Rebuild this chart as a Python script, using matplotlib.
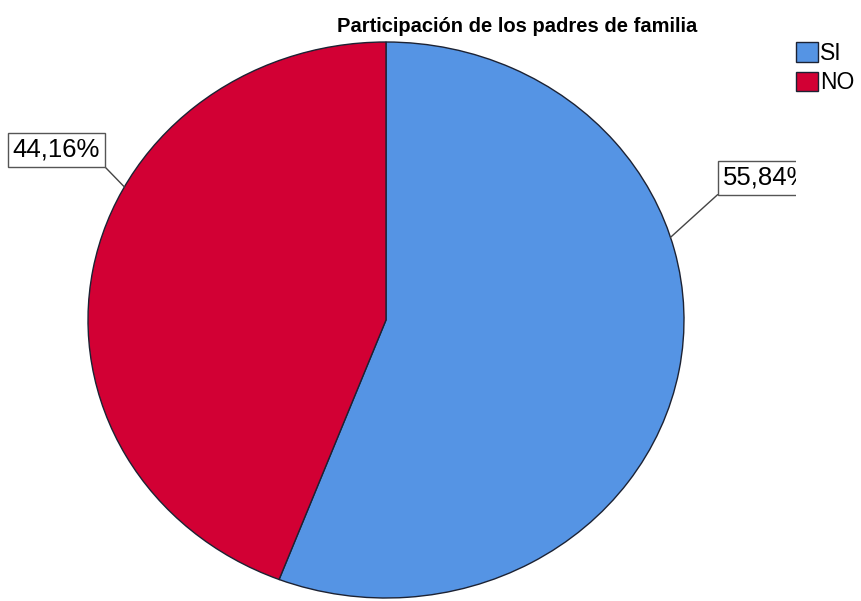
import numpy as np
import matplotlib.pyplot as plt
from matplotlib.patches import Patch
from matplotlib.transforms import Bbox, TransformedBbox

plt.rcParams['font.family'] = ['Liberation Sans', 'DejaVu Sans']

labels = ['SI', 'NO']
values = [55.84, 44.16]
colors = ['#5594E4', '#D20034']
title = 'Participación de los padres de familia'

W, H = 861, 601
fig = plt.figure(figsize=(W / 100, H / 100), dpi=100)
ax = fig.add_axes([88 / W, 3 / H, 596 / W, 556 / H])

wedges, _ = ax.pie(values, colors=colors, startangle=90, counterclock=False,
                   wedgeprops=dict(edgecolor='#1c2233', linewidth=1.0))
ax.set_aspect('auto')
ax.set_xlim(-1, 1)
ax.set_ylim(-1, 1)

# label boxes with leader lines (angle on the pie edge, box centre in pixels)
lab_pos = [(17.3, (766.5, H - 178), (0, 0)),
           (151.4, (56.5, H - 150), (1, 0))]
clip = TransformedBbox(Bbox([[0, 0], [796 / W, 1]]), fig.transFigure)
for v, (ang, xyt, rp) in zip(values, lab_pos):
    a = np.deg2rad(ang)
    txt = ('%.2f%%' % v).replace('.', ',')
    t = ax.annotate(txt, xy=(np.cos(a), np.sin(a)), xytext=xyt,
                    textcoords='figure pixels', ha='center', va='center',
                    fontsize=18.5,
                    bbox=dict(boxstyle='square,pad=0.18', fc='white', ec='#555555', lw=1),
                    arrowprops=dict(arrowstyle='-', color='#444444', lw=1,
                                    relpos=rp, shrinkA=0, shrinkB=0))
    t.set_clip_box(clip)
    t.set_clip_on(True)

fig.text(517 / W, 1 - 26 / H, title, ha='center', va='center',
         fontsize=14.5, fontweight='bold')

handles = [Patch(facecolor=c, edgecolor='#1c2233', lw=1) for c in colors]
fig.legend(handles, labels, loc='upper left', bbox_to_anchor=(796 / W, 1 - 42 / H),
           frameon=False, fontsize=16.5, handlelength=0.95, handleheight=0.95,
           handletextpad=0.1, labelspacing=0.28, borderpad=0, borderaxespad=0)

fig.savefig('out.png', dpi=100)
